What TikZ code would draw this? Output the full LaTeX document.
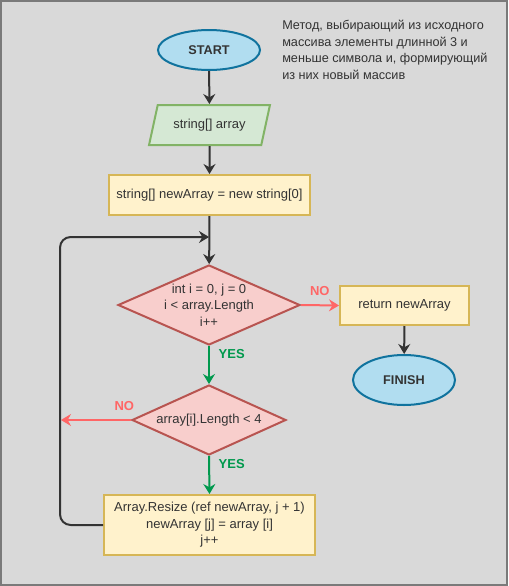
\documentclass[tikz,border=0pt]{standalone}
\usepackage{fontspec}
\setmainfont{Liberation Sans}
\usetikzlibrary{arrows.meta,shapes.geometric}

\definecolor{bgGray}{HTML}{D9D9D9}
\definecolor{frameGray}{HTML}{7A7A7A}
\definecolor{txtDark}{HTML}{333333}
\definecolor{termFill}{HTML}{B1DDF0}
\definecolor{termLine}{HTML}{10739E}
\definecolor{ioFill}{HTML}{D5E8D4}
\definecolor{ioLine}{HTML}{82B366}
\definecolor{procFill}{HTML}{FFF2CC}
\definecolor{procLine}{HTML}{D6B656}
\definecolor{condFill}{HTML}{F8CECC}
\definecolor{condLine}{HTML}{B85450}
\definecolor{noRed}{HTML}{FF6666}
\definecolor{yesGreen}{HTML}{00994D}

\tikzset{
  term/.style={ellipse, draw=termLine, fill=termFill, line width=1.5pt,
    minimum width=76.5pt, minimum height=30pt, inner sep=0pt,
    font=\bfseries\fontsize{9.5}{11}\selectfont},
  io/.style={trapezium, trapezium left angle=63.4, trapezium right angle=116.6,
    trapezium stretches=true, draw=ioLine, fill=ioFill, line width=1.5pt,
    minimum width=90.75pt, minimum height=30pt, inner sep=0pt},
  proc/.style={rectangle, draw=procLine, fill=procFill, line width=1.5pt,
    align=center, inner sep=0pt},
  cond/.style={diamond, draw=condLine, fill=condFill, line width=1.5pt,
    align=center, inner sep=-4pt},
  flow/.style={draw=txtDark, line width=1.5pt,
    -{Stealth[length=7.5pt,width=9pt,inset=2.5pt]}},
  yesflow/.style={flow, draw=yesGreen},
  noflow/.style={flow, draw=noRed},
  yeslab/.style={text=yesGreen, font=\bfseries\fontsize{9.75}{11}\selectfont, inner sep=0pt},
  nolab/.style={text=noRed, font=\bfseries\fontsize{9.75}{11}\selectfont, inner sep=0pt}
}

\begin{document}
\begin{tikzpicture}[x=0.75pt, y=-0.75pt, text=txtDark,
    font=\fontsize{9.75}{12.4}\selectfont]
  % 背景
  \useasboundingbox (0,0) rectangle (508,586);
  \fill[bgGray] (0,0) rectangle (508,586);
  \draw[frameGray, line width=1.5pt] (1,1) rectangle (507,585);

  % 说明
  \node[anchor=north west, align=left, inner sep=0pt, font=\fontsize{9.5}{12.4}\selectfont] (note) at (282,20)
    {Метод, выбирающий из исходного\\массива элементы длинной 3 и\\меньше символа и, формирующий\\из них новый массив};

  % 主干
  \node[term] (start) at (209,50) {START};
  \node[io] (input) at (209.5,125) {string[] array};
  \node[proc, minimum width=150.75pt, minimum height=30pt] (init) at (209.5,195)
    {string[] newArray = new string[0]};
  \coordinate (join) at (209,237);
  \node[cond, minimum width=136.5pt, minimum height=60pt, shape aspect=2.275] (loop) at (209,305)
    {int i = 0, j = 0\\i < array.Length\\i++};
  \node[proc, minimum width=96.75pt, minimum height=29.25pt] (ret) at (404.5,305.5) {return newArray};
  \node[term, minimum height=37.5pt] (finish) at (404,380) {FINISH};
  \node[cond, minimum width=115.5pt, minimum height=52.5pt, shape aspect=2.2] (check) at (209,420)
    {array[i].Length < 4};
  \node[proc, minimum width=158.25pt, minimum height=45pt] (body) at (209.5,525)
    {Array.Resize (ref newArray, j + 1)\\newArray [j] = array [i]\\j++};
  \coordinate (back) at (60,237);
  \coordinate (skip) at (61,420);

  % 连线
  \draw[flow] (start) -- (input);
  \draw[flow] (input) -- (init);
  \draw[flow] (init) -- (loop);
  \draw[noflow] (loop.east) -- (ret.west)
    node[nolab, pos=0, anchor=south west, xshift=6pt, yshift=6pt] {NO};
  \draw[flow] (ret) -- (finish);
  \draw[yesflow] (loop.south) -- (check.north)
    node[yeslab, pos=0, anchor=north west, xshift=6.5pt, yshift=-1.5pt] {YES};
  \draw[yesflow] (check.south) -- (body.north)
    node[yeslab, pos=0, anchor=north west, xshift=6.5pt, yshift=-1.5pt] {YES};
  \draw[noflow] (check.west) -- (skip)
    node[nolab, pos=0, anchor=south east, xshift=3pt, yshift=6pt] {NO};
  \draw[flow, rounded corners=8pt] (body.west) -| (back) -- (join);
\end{tikzpicture}
\end{document}
